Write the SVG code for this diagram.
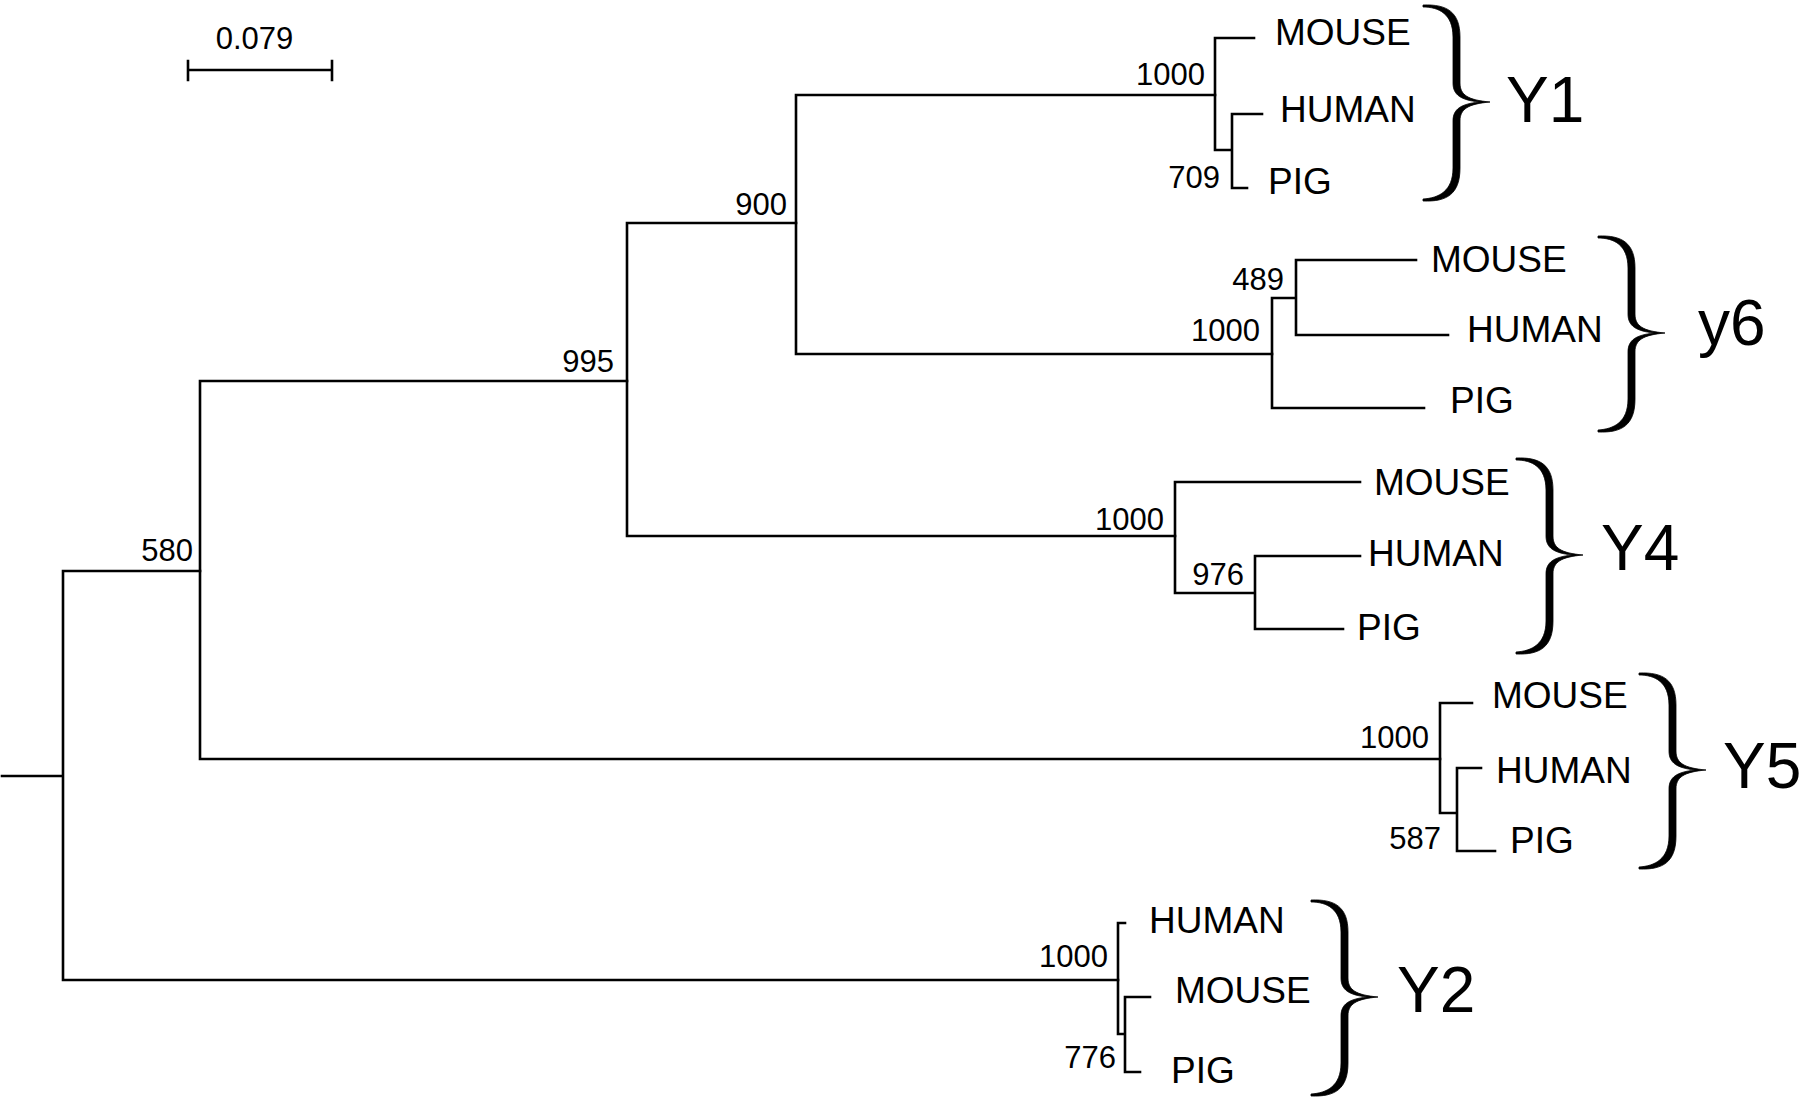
<svg xmlns="http://www.w3.org/2000/svg" xmlns:xlink="http://www.w3.org/1999/xlink" width="1800" height="1099" viewBox="0 0 1800 1099">
<style>
  .br { fill: none; stroke: #000; stroke-width: 2.6; stroke-linecap: square; stroke-linejoin: miter; }
  text { font-family: "Liberation Sans", Arial, Helvetica, sans-serif; fill: #000; }
  .bs { font-size: 31px; text-anchor: end; }
  .leaf { font-size: 37px; }
  .clade { font-size: 64px; }
  .scale { font-size: 31px; text-anchor: middle; }
  .brace { fill: #000; stroke: #000; stroke-width: 0.8; }
</style>
<defs>
  <path id="brace" d="M0,0 C24,-1 37,7 37,32 L37,78 C37,90 45,95 67,97 C45,99 37,104 37,116 L37,163 C37,189 24,197 0,196 L0,194 C16,193 30,186 30,163 L30,116 C30,104 38,99 56,97 C38,95 30,90 30,78 L30,32 C30,9 16,2 0,2 Z"/>
</defs>
<rect x="0" y="0" width="1800" height="1099" fill="#fff"/>

<g id="scale-bar">
  <path class="br" d="M188,70 H332 M188,61 V80 M332,61 V80"/>
  <text class="scale" x="254.5" y="49">0.079</text>
</g>

<g id="connectors">
  <!-- root -->
  <path class="br" d="M2,776 H63 M63,571 V980 M63,571 H200 M63,980 H1118"/>
  <!-- node 580 -->
  <path class="br" d="M200,381 V759 M200,381 H627 M200,759 H1440"/>
  <!-- node 995 -->
  <path class="br" d="M627,223 V536 M627,223 H796 M627,536 H1175"/>
  <!-- node 900 -->
  <path class="br" d="M796,95 V354 M796,95 H1215 M796,354 H1272"/>
  <!-- Y1 clade -->
  <path class="br" d="M1215,38 V150 M1215,38 H1254 M1215,150 H1232 M1232,114 V188 M1232,114 H1262 M1232,188 H1247"/>
  <!-- y6 clade -->
  <path class="br" d="M1272,298 V408 M1272,298 H1296 M1296,260 V335 M1296,260 H1416 M1296,335 H1448 M1272,408 H1424"/>
  <!-- Y4 clade -->
  <path class="br" d="M1175,482 V593 M1175,482 H1360 M1175,593 H1255 M1255,556 V629 M1255,556 H1360 M1255,629 H1343"/>
  <!-- Y5 clade -->
  <path class="br" d="M1440,703 V813 M1440,703 H1472 M1440,813 H1457 M1457,768 V851 M1457,768 H1481 M1457,851 H1495"/>
  <!-- Y2 clade -->
  <path class="br" d="M1118,923 V1034 M1118,923 H1125 M1118,1034 H1125 M1125,997 V1072 M1125,997 H1150 M1125,1072 H1140"/>
</g>

<g id="node-580"><text class="bs" x="193" y="561">580</text></g>
<g id="node-995"><text class="bs" x="614" y="372">995</text></g>
<g id="node-900"><text class="bs" x="787" y="215">900</text></g>

<g id="clade-Y1">
  <text class="bs" x="1205" y="85">1000</text>
  <text class="bs" x="1220" y="188">709</text>
  <text class="leaf" x="1275" y="45">MOUSE</text>
  <text class="leaf" x="1280" y="122">HUMAN</text>
  <text class="leaf" x="1268" y="194">PIG</text>
  <use xlink:href="#brace" href="#brace" class="brace" transform="translate(1423,5)"/>
  <text class="clade" x="1506" y="122">Y1</text>
</g>

<g id="clade-y6">
  <text class="bs" x="1284" y="290">489</text>
  <text class="bs" x="1260" y="341">1000</text>
  <text class="leaf" x="1431" y="272">MOUSE</text>
  <text class="leaf" x="1467" y="342">HUMAN</text>
  <text class="leaf" x="1450" y="413">PIG</text>
  <use xlink:href="#brace" href="#brace" class="brace" transform="translate(1598,236)"/>
  <text class="clade" x="1698" y="345">y6</text>
</g>

<g id="clade-Y4">
  <text class="bs" x="1164" y="530">1000</text>
  <text class="bs" x="1244" y="585">976</text>
  <text class="leaf" x="1374" y="495">MOUSE</text>
  <text class="leaf" x="1368" y="566">HUMAN</text>
  <text class="leaf" x="1357" y="640">PIG</text>
  <use xlink:href="#brace" href="#brace" class="brace" transform="translate(1516,458)"/>
  <text class="clade" x="1601" y="570">Y4</text>
</g>

<g id="clade-Y5">
  <text class="bs" x="1429" y="748">1000</text>
  <text class="bs" x="1441" y="849">587</text>
  <text class="leaf" x="1492" y="708">MOUSE</text>
  <text class="leaf" x="1496" y="783">HUMAN</text>
  <text class="leaf" x="1510" y="853">PIG</text>
  <use xlink:href="#brace" href="#brace" class="brace" transform="translate(1639,673)"/>
  <text class="clade" x="1723" y="788">Y5</text>
</g>

<g id="clade-Y2">
  <text class="bs" x="1108" y="967">1000</text>
  <text class="bs" x="1116" y="1068">776</text>
  <text class="leaf" x="1149" y="933">HUMAN</text>
  <text class="leaf" x="1175" y="1003">MOUSE</text>
  <text class="leaf" x="1171" y="1083">PIG</text>
  <use xlink:href="#brace" href="#brace" class="brace" transform="translate(1311,900)"/>
  <text class="clade" x="1397" y="1012">Y2</text>
</g>
</svg>
